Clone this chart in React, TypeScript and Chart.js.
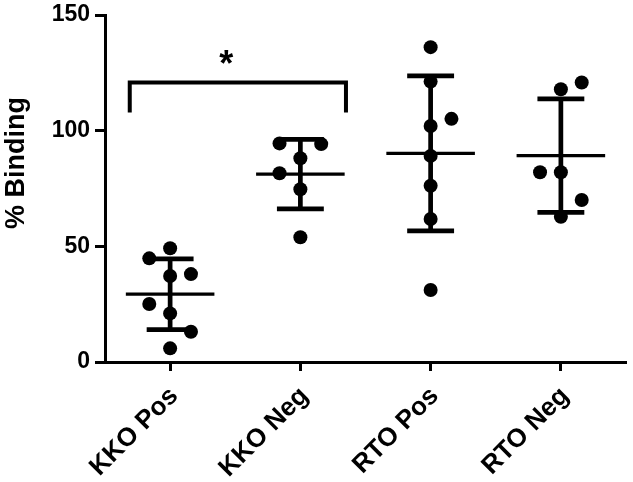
import React, { useEffect, useRef } from 'react';
import { Chart, registerables } from 'chart.js';

Chart.register(...registerables);

// ---- data ----
const categories = ['KKO Pos', 'KKO Neg', 'RTO Pos', 'RTO Neg'];
const kkoPos = [49.2, 44.8, 37.2, 38.0, 25.1, 21.0, 13.1, 5.9];
const kkoPosColumn = [0, -1, 0, 1, -1, 0, 1, 0];
const kkoNeg = [94.5, 94.2, 88.1, 81.6, 74.7, 53.9];
const kkoNegColumn = [-1, 1, 0, -1, 0, 0];
const rtoPos = [136.1, 121.2, 105.1, 102.0, 89.1, 76.2, 61.8, 31.1];
const rtoPosColumn = [0, 0, 1, 0, 0, 0, 0, 0];
const rtoNeg = [120.8, 117.9, 82.0, 82.0, 70.0, 62.8];
const rtoNegColumn = [1, 0, -1, 0, 1, 0];
const means = [29.3, 81.2, 90.2, 89.2];
const sds = [15.3, 15.0, 33.5, 24.5];
const yTicks = [0, 50, 100, 150];
const yTitle = '% Binding';
const sigLabel = '*';
const sigBracketValue = 120.8;
const sigLegValue = 107.8;
const sigLabelValue = 131;

const groups = [
  { values: kkoPos, cols: kkoPosColumn },
  { values: kkoNeg, cols: kkoNegColumn },
  { values: rtoPos, cols: rtoPosColumn },
  { values: rtoNeg, cols: rtoNegColumn },
];

// ---- styling ----
const FONT = '"Liberation Sans", Arial, Helvetica, sans-serif';
const JITTER = 0.16;
const MEAN_HALF = 0.34;
const CAP_HALF = 0.18;

export default function App() {
  const ref = useRef<HTMLCanvasElement | null>(null);

  useEffect(() => {
    if (!ref.current) return;

    const datasets: any[] = [];
    groups.forEach((g, i) => {
      const m = means[i];
      const s = sds[i];
      datasets.push({
        type: 'line',
        data: [
          { x: i - MEAN_HALF, y: m },
          { x: i + MEAN_HALF, y: m },
        ],
        borderColor: '#000',
        borderWidth: 3.3,
        pointRadius: 0,
        showLine: true,
        borderCapStyle: 'butt',
        spanGaps: false,
        order: 2,
      });
      datasets.push({
        type: 'line',
        data: [
          { x: i - CAP_HALF, y: m + s },
          { x: i + CAP_HALF, y: m + s },
          { x: i, y: null },
          { x: i, y: m + s },
          { x: i, y: m - s },
          { x: i, y: null },
          { x: i - CAP_HALF, y: m - s },
          { x: i + CAP_HALF, y: m - s },
        ],
        borderColor: '#000',
        borderWidth: 4.7,
        pointRadius: 0,
        showLine: true,
        borderCapStyle: 'butt',
        spanGaps: false,
        order: 2,
      });
      datasets.push({
        type: 'scatter',
        data: g.values.map((v, k) => ({ x: i + g.cols[k] * JITTER, y: v })),
        backgroundColor: '#000',
        borderColor: '#000',
        borderWidth: 0,
        pointRadius: 7,
        showLine: false,
        order: 1,
      });
    });

    const overlay = {
      id: 'overlay',
      afterDraw(chart: any) {
        const ctx = chart.ctx;
        const xs = chart.scales.x;
        const ys = chart.scales.y;
        ctx.save();
        // y title
        ctx.fillStyle = '#000';
        ctx.font = `bold 27px ${FONT}`;
        ctx.textAlign = 'center';
        ctx.textBaseline = 'middle';
        ctx.translate(17, 163);
        ctx.rotate(-Math.PI / 2);
        ctx.fillText(yTitle, 0, 0);
        ctx.restore();

        // significance bracket
        ctx.save();
        const x0 = xs.getPixelForValue(0 - 0.31);
        const x1 = xs.getPixelForValue(1 + 0.35);
        const yb = ys.getPixelForValue(sigBracketValue);
        const yl = ys.getPixelForValue(sigLegValue);
        ctx.strokeStyle = '#000';
        ctx.lineWidth = 4;
        ctx.lineCap = 'butt';
        ctx.lineJoin = 'miter';
        ctx.beginPath();
        ctx.moveTo(x0, yl);
        ctx.lineTo(x0, yb);
        ctx.lineTo(x1, yb);
        ctx.lineTo(x1, yl);
        ctx.stroke();
        ctx.fillStyle = '#000';
        ctx.font = `bold 36px ${FONT}`;
        ctx.textAlign = 'center';
        ctx.textBaseline = 'middle';
        ctx.fillText(sigLabel, xs.getPixelForValue(0.43), ys.getPixelForValue(sigLabelValue) + 7);
        ctx.restore();
      },
    };

    const chart = new Chart(ref.current, {
      type: 'scatter',
      data: { datasets },
      plugins: [overlay],
      options: {
        animation: false,
        responsive: false,
        events: [],
        layout: { padding: { top: 15, right: 5, left: 0, bottom: 0 } },
        plugins: { legend: { display: false }, tooltip: { enabled: false } },
        scales: {
          x: {
            type: 'linear',
            min: -0.5,
            max: 3.5,
            afterBuildTicks: (s: any) => {
              s.ticks = categories.map((_, i) => ({ value: i }));
            },
            afterFit: (s: any) => {
              s.height = 120;
              s.paddingLeft = 0;
              s.paddingRight = 0;
            },
            grid: {
              display: true,
              drawOnChartArea: false,
              drawTicks: true,
              tickLength: 9,
              tickWidth: 3,
              tickColor: '#000',
              color: '#000',
            },
            border: { display: true, color: '#000', width: 3 },
            ticks: {
              autoSkip: false,
              minRotation: 45,
              maxRotation: 45,
              padding: 10,
              labelOffset: 4,
              color: '#000',
              font: { family: FONT, size: 26, weight: 'bold' },
              callback: (v: any) => categories[Math.round(Number(v))] ?? '',
            },
          },
          y: {
            type: 'linear',
            min: 0,
            max: 150,
            afterBuildTicks: (s: any) => {
              s.ticks = yTicks.map((v) => ({ value: v }));
            },
            afterFit: (s: any) => {
              s.width = 105;
              s.paddingTop = 0;
              s.paddingBottom = 0;
            },
            grid: {
              display: true,
              drawOnChartArea: false,
              drawTicks: true,
              tickLength: 10,
              tickWidth: 3,
              tickColor: '#000',
              color: '#000',
            },
            border: { display: true, color: '#000', width: 3 },
            ticks: {
              padding: 5,
              color: '#000',
              font: { family: FONT, size: 23, weight: 'bold' },
            },
          },
        },
      },
    } as any);

    return () => chart.destroy();
  }, []);

  return (
    <div style={{ position: 'fixed', left: 0, top: 0, width: 633, height: 482, background: '#fff' }}>
      <canvas ref={ref} width={633} height={482} style={{ display: 'block', width: 633, height: 482 }} />
    </div>
  );
}
